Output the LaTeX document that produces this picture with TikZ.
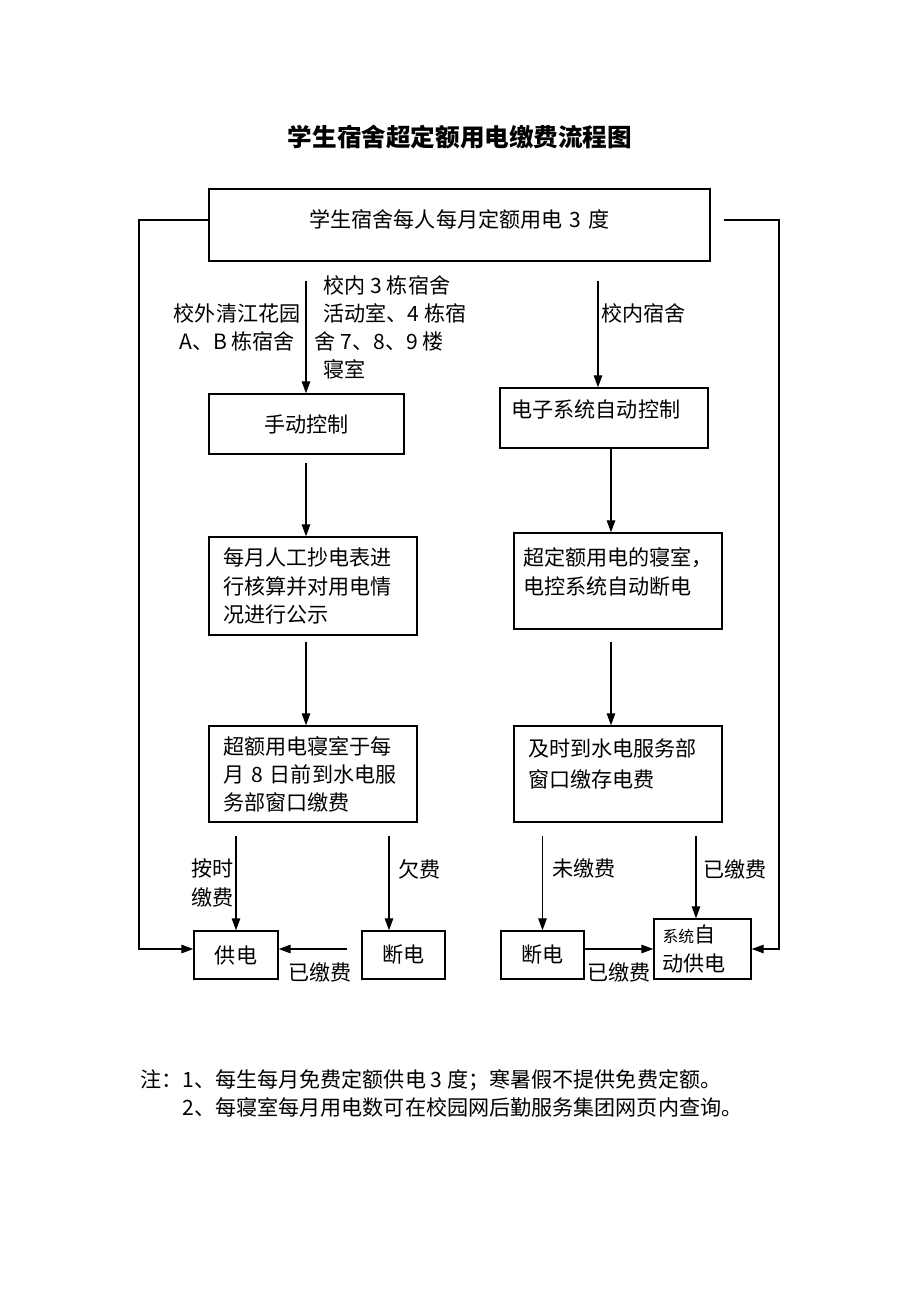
\documentclass[tikz,border=0pt]{standalone}
\usepackage{fontspec}
\setmainfont{Noto Sans CJK SC}
\usetikzlibrary{arrows.meta, positioning, calc}
\def\lift#1{\rule[-#1]{0pt}{#1}}
\tikzset{
    every node/.style={font=\fontsize{12pt}{16pt}\selectfont},
    box/.style={draw, line width=0.8pt, inner sep=0pt},
    arr/.style={line width=0.7pt, -{Triangle[length=2.4mm, width=1.7mm]}},
    lbl/.style={inner sep=0pt},
}

\begin{document}
\begin{tikzpicture}[x=0.02cm, y=-0.02cm]
    \useasboundingbox (0,0) rectangle (920,1302);

    \node[lbl, font=\fontsize{14pt}{16pt}\selectfont\bfseries] (title) at (460,137) {学生宿舍超定额用电缴费流程图};

    % boxes
    \node[box, minimum width=10.02cm, minimum height=1.44cm, text width=9cm, align=center] (top) at (459.5,225) {学生宿舍每人每月定额用电 3 度\lift{0.24cm}};
    \node[box, minimum width=3.9cm, minimum height=1.2cm] (hand) at (306.5,424) {手动控制};
    \node[box, minimum width=4.16cm, minimum height=1.2cm, text width=3.7cm, align=left] (ectl) at (604,418) {电子系统自动控制\lift{0.36cm}};
    \node[box, minimum width=4.16cm, minimum height=1.96cm, text width=3.6cm, align=left] (month) at (313,586) {每月人工抄电表进\\行核算并对用电情\\况进行公示};
    \node[box, minimum width=4.16cm, minimum height=1.92cm, text width=3.8cm, align=left] (over) at (618,581) {超定额用电的寝室，\\电控系统自动断电\lift{0.4cm}};
    \node[box, minimum width=4.16cm, minimum height=1.92cm, text width=3.6cm, align=left] (pay) at (313,774) {超额用电寝室于每\\月 8 日前到水电服\\务部窗口缴费};
    \node[box, minimum width=4.16cm, minimum height=1.92cm, text width=3.6cm, align=left] (timely) at (618,774) {及时到水电服务部\\[2pt]窗口缴存电费\lift{0.44cm}};
    \node[box, minimum width=1.68cm, minimum height=0.96cm] (gong) at (236,955) {供电};
    \node[box, minimum width=1.66cm, minimum height=0.96cm] (dianL) at (403.5,955) {断电};
    \node[box, minimum width=1.66cm, minimum height=0.96cm] (dianR) at (542.5,955) {断电};
    \node[box, minimum width=1.94cm, minimum height=1.2cm, text width=1.6cm, align=left] (auto) at (702.5,949) {{\fontsize{9pt}{16pt}\selectfont 系统}自\\动供电};

    % columns of the arrows
    \coordinate (cA) at (306,0);
    \coordinate (cB) at (598,0);
    \coordinate (cC) at (611,0);
    \coordinate (cD) at (389,0);
    \coordinate (cE) at (696,0);
    \coordinate (L) at (139,220);
    \coordinate (R) at (779,220);
    \coordinate (mid) at (0,949);

    % arrows
    \draw[arr, shorten <=0.38cm] (top.south -| cA) -- (hand.north -| cA)
        node[lbl, pos=0.5, left=0.1cm, align=center] {校外清江花园\\A、B 栋宿舍}
        node[lbl, pos=0.5, right=0.34cm, align=left] {校内 3 栋宿舍\\活动室、4 栋宿\\\hspace*{-5pt}舍 7、8、9 楼\\寝室};
    \draw[arr, shorten <=0.38cm] (top.south -| cB) -- (ectl.north -| cB)
        node[lbl, pos=0.41, right=0.06cm] {校内宿舍};
    \draw[arr, shorten <=0.16cm] (hand.south -| cA) -- (month.north -| cA);
    \draw[arr] (ectl.south -| cC) -- (over.north -| cC);
    \draw[arr, shorten <=0.12cm] (month.south -| cA) -- (pay.north -| cA);
    \draw[arr, shorten <=0.24cm] (over.south -| cC) -- (timely.north -| cC);

    \draw[arr, shorten <=0.26cm] (pay.south -| gong.north) -- (gong.north)
        node[lbl, pos=0.56, left=0.04cm, align=left] {按时\\缴费};
    \draw[arr, shorten <=0.26cm] (pay.south -| cD) -- (dianL.north -| cD)
        node[lbl, pos=0.43, right=0.18cm] {欠费};
    \draw[arr, shorten <=0.26cm] (timely.south -| dianR.north) -- (dianR.north)
        node[lbl, pos=0.43, right=0.18cm] {未缴费};
    \draw[arr, shorten <=0.26cm] (timely.south -| cE) -- (auto.north -| cE)
        node[lbl, pos=0.485, right=0.14cm] {已缴费};

    \draw[arr, shorten <=0.28cm] (dianL.west |- mid) -- (gong.east |- mid)
        node[lbl, midway, below=0.26cm] {已缴费};
    \draw[arr] (dianR.east |- mid) -- (auto.west |- mid)
        node[lbl, midway, below=0.26cm] {已缴费};

    % outer loops
    \draw[arr] (top.west |- L) -- (L) |- (gong.west |- mid);
    \draw[arr, shorten <=0.26cm] (top.east |- R) -- (R) |- (auto.east |- mid);

    % note
    \node[lbl, anchor=west, align=left] (note) at (140,1093) {注：1、每生每月免费定额供电 3 度；寒暑假不提供免费定额。\\\phantom{注：}2、每寝室每月用电数可在校园网后勤服务集团网页内查询。};
\end{tikzpicture}
\end{document}
